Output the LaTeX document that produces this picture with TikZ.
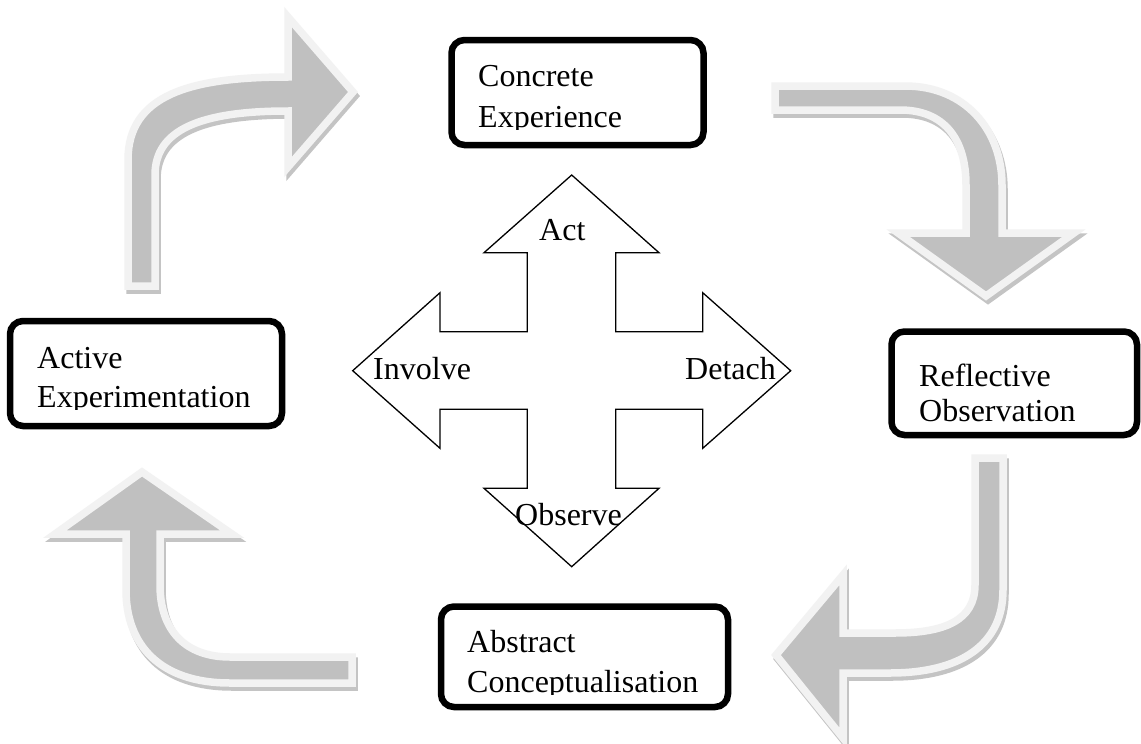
\documentclass[tikz,border=0pt]{standalone}
\usepackage{fontspec}
\setmainfont{Liberation Serif}
\definecolor{arrowgray}{RGB}{192,192,192}
\definecolor{arrowrim}{RGB}{242,242,242}
\definecolor{shadowgray}{RGB}{196,196,196}
\begin{document}
\begin{tikzpicture}[x=1pt,y=-1pt,
  flowfill/.style={fill=arrowgray, draw=arrowrim, line width=7.5pt, line join=miter},
  flowshadow/.style={fill=shadowgray, draw=shadowgray, line width=7.5pt, line join=miter, shift={(2,4)}},
  stagebox/.style={draw=black, line width=6.5pt, rounded corners=13pt, fill=white, inner sep=0pt},
  crossline/.style={draw=black, line width=1.3pt, fill=white, line join=miter},
  lbl/.style={font=\fontsize{32}{40}\selectfont, inner sep=0pt, anchor=base west},
]
\useasboundingbox (0,0) rectangle (1141,744);
\fill[white] (0,0) rectangle (1141,744);

% outlines of the four bent flow arrows
\def\flowNW{(128,286) -- (128,160) .. controls (128,95) and (190,77) .. (288,77)
  -- (288,17) -- (353,92) -- (288,167) -- (288,111)
  .. controls (200,111) and (155,130) .. (155,175) -- (155,286) -- cycle}
\def\flowNE{(775,86) -- (905,86) .. controls (965,86) and (1002,130) .. (1002,185)
  -- (1002,233) -- (1074,233) -- (986,296) -- (898,233) -- (966,233) -- (966,185)
  .. controls (966,140) and (945,110) .. (900,110) -- (775,110) -- cycle}
\def\flowSE{(975,458) -- (1003,458) -- (1003,590) .. controls (1003,645) and (960,673) .. (890,673)
  -- (843,673) -- (843,738) -- (776,655) -- (843,575) -- (843,633) -- (895,633)
  .. controls (945,633) and (975,620) .. (975,585) -- cycle}
\def\flowSW{(126,534) -- (55,534) -- (142,472) -- (232,534) -- (160,534) -- (160,585)
  .. controls (160,630) and (185,657) .. (230,657) -- (352,657) -- (352,683) -- (230,683)
  .. controls (160,683) and (126,645) .. (126,590) -- cycle}

\foreach \p in {\flowNW,\flowNE,\flowSE,\flowSW}{
  \path[flowshadow] \p;
  \path[flowfill] \p;
}

% four-way arrow in the middle
\path[crossline] (571.7,175) -- (659,252.7) -- (615.7,252.7) -- (615.7,331.7) -- (702.7,331.7)
  -- (702.7,292.7) -- (790.7,370.7) -- (702.7,448.3) -- (702.7,409.3) -- (615.7,409.3)
  -- (615.7,488.3) -- (659,488.3) -- (571.7,566.7) -- (484,488.3) -- (527.3,488.3)
  -- (527.3,409.3) -- (440,409.3) -- (440,448.3) -- (352.7,370.7) -- (440,292.7)
  -- (440,331.7) -- (527.3,331.7) -- (527.3,252.7) -- (484,252.7) -- cycle;
\node[lbl] (act) at (539,240) {Act};
\node[lbl] (involve) at (373,379) {Involve};
\node[lbl] (detach) at (685,379) {Detach};
\node[lbl] (observe) at (515,525) {Observe};

% the four stages
\node[stagebox, minimum width=252pt, minimum height=105pt] (ce) at (577.5,92.5) {};
\node[stagebox, minimum width=272pt, minimum height=105pt] (ae) at (146,373.5) {};
\node[stagebox, minimum width=245.5pt, minimum height=103.5pt] (ro) at (1014.25,383.25) {};
\node[stagebox, minimum width=287pt, minimum height=100.5pt] (ac) at (584.5,656.75) {};

\begin{scope}
  \clip (451,40) rectangle (704,129);
  \node[lbl] (ce1) at (478,86) {Concrete};
  \node[lbl] (ce2) at (478,127) {Experience};
\end{scope}
\begin{scope}
  \clip (10,321) rectangle (282,409);
  \node[lbl] (ae1) at (37,368) {Active};
  \node[lbl] (ae2) at (37,407) {Experimentation};
\end{scope}
\begin{scope}
  \clip (891,331) rectangle (1137,424);
  \node[lbl] (ro1) at (919,386) {Reflective};
  \node[lbl] (ro2) at (919,421) {Observation};
\end{scope}
\begin{scope}
  \clip (441,606) rectangle (728,694);
  \node[lbl] (ac1) at (467,652) {Abstract};
  \node[lbl] (ac2) at (467,692) {Conceptualisation};
\end{scope}
\end{tikzpicture}
\end{document}
